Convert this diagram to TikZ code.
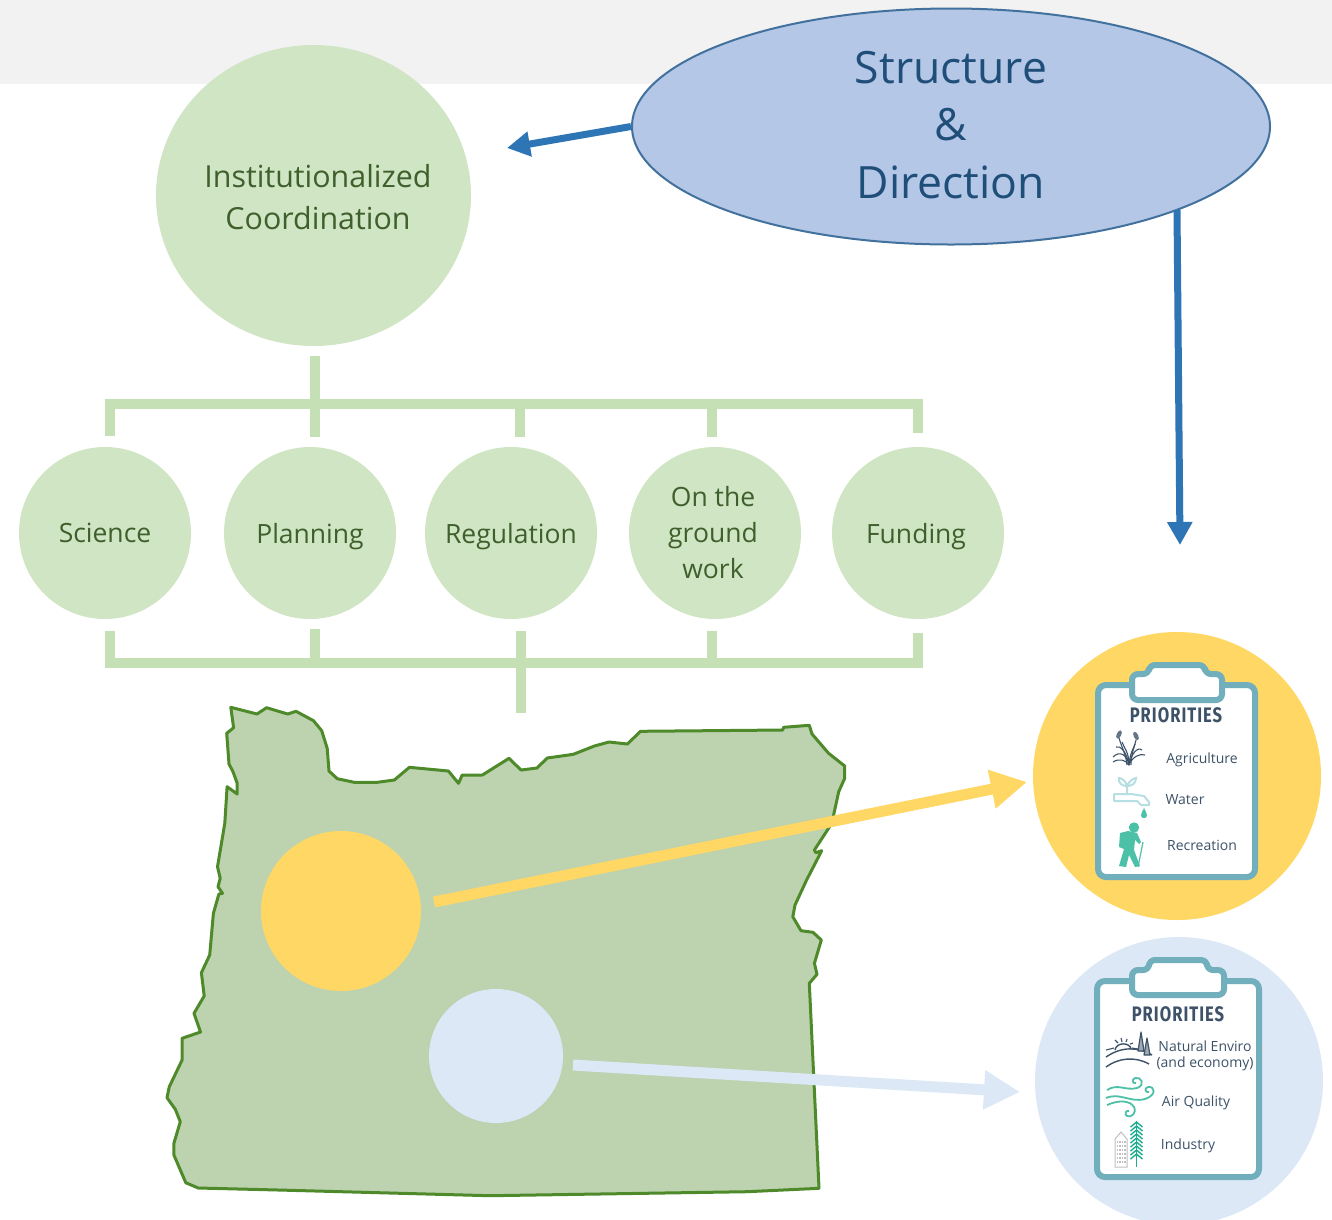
\documentclass[tikz,border=0pt]{standalone}
\usepackage{fontspec}
\setmainfont{Open Sans}
\newfontfamily\prifont[LetterSpace=6]{Fira Sans}
\usetikzlibrary{arrows.meta,shapes.geometric}
\definecolor{greenfill}{HTML}{CFE5C3}
\definecolor{greenbar}{HTML}{C6E0B5}
\definecolor{greentext}{HTML}{3F5F2C}
\definecolor{mapfill}{HTML}{BDD2AF}
\definecolor{mapedge}{HTML}{4E8A2A}
\definecolor{bluefill}{HTML}{B4C7E7}
\definecolor{bluetext}{HTML}{1F4E79}
\definecolor{blueedge}{HTML}{41719C}
\definecolor{bluearrow}{HTML}{2E75B6}
\definecolor{spotyellow}{HTML}{FFD764}
\definecolor{spotblue}{HTML}{DCE8F5}
\definecolor{boardedge}{HTML}{70AFBB}
\definecolor{icondark}{HTML}{3D5268}
\definecolor{iconteal}{HTML}{4DC0A8}
\definecolor{tappale}{HTML}{B7DEE2}
\definecolor{treegreen}{HTML}{1DAD8C}
\tikzset{
	smallcircle/.style={circle,fill=greenfill,text=greentext,minimum size=172pt,inner sep=0pt,align=center,font=\fontsize{26.5}{36}\selectfont},
	oneline/.style={text depth=0pt},
	barline/.style={draw=greenbar,line width=10pt},
	bluearrowline/.style={draw=bluearrow,line width=7pt,-{Triangle[length=23pt,width=24pt]}},
	spotarrow/.style={line width=11pt,-{Triangle[length=36pt,width=37pt]}},
	board/.style={draw=boardedge,fill=white,line width=6pt,rounded corners=8pt},
	clipshape/.style={draw=boardedge,fill=white,line width=6pt,rounded corners=6pt},
	pri/.style={text=icondark,font=\prifont\fontsize{21}{24}\selectfont\bfseries,inner sep=0pt},
	itemtext/.style={text=icondark,font=\fontsize{14}{16}\selectfont,inner sep=0pt}
}
\begin{document}
\begin{tikzpicture}[x=1pt,y=-1pt]
	\useasboundingbox (0,0) rectangle (1332,1219);
	% top band
	\fill[black!5] (0,0) rectangle (1332,84);
	% main nodes
	\node[ellipse,fill=greenfill,text=greentext,minimum width=315pt,minimum height=301pt,inner sep=0pt] (instcoord) at (313.5,195.5) {};
	\node[text=greentext,align=center,font=\fontsize{30.4}{42}\selectfont] (instlabel) at (318,197) {Institutionalized\\Coordination};
	\node[ellipse,draw=blueedge,fill=bluefill,line width=2pt,minimum width=638pt,minimum height=236pt,inner sep=0pt] (structure) at (951,126.5) {};
	\node[text=bluetext,align=center,font=\fontsize{44.5}{57.5}\selectfont] (structlabel) at (951,125) {Structure\\\&\\Direction};
	% five activities
	\node[smallcircle,oneline] (science) at (105,533) {Science};
	\node[smallcircle,oneline] (planning) at (310,533) {Planning};
	\node[smallcircle,oneline] (regulation) at (511,533) {Regulation};
	\node[smallcircle] (ground) at (715,533) {\hspace*{-4pt}On the\\\hspace*{-4pt}ground\\\hspace*{-4pt}work};
	\node[smallcircle,oneline] (funding) at (918,533) {\hspace*{-4pt}Funding};
	% top bars
	\coordinate (topleft) at (104.5,404);
	\coordinate (topright) at (923,404);
	\coordinate (instfoot) at (314.5,355.5);
	\draw[barline] (topleft) -- (topright);
	\draw[barline] (instfoot) -- (314.5,437);
	\foreach \name/\x/\gap in {science/110/11,regulation/520/10.5,ground/712/10.5,funding/918/14}
	\draw[barline,shorten >=\gap pt] (\x,404) -- (\x,447);
	% bottom bars
	\coordinate (botleft) at (104.5,663);
	\coordinate (botright) at (923,663);
	\coordinate (bottail) at (520.5,712.5);
	\draw[barline] (botleft) -- (botright);
	\draw[barline] (520.5,631) -- (bottail);
	\foreach \x/\ytop in {110/631,314.5/629,712/631,918/633}
	\draw[barline] (\x,663) -- (\x,\ytop);
	% oregon
	\draw[draw=mapedge,fill=mapfill,line width=3pt,line join=round] (230.8,707.3) -- (257,714) -- (266.6,707.7) -- (287.7,714) -- (296,711.3) -- (313.5,720.7) -- (321.7,730.7) -- (327.2,748.3) -- (329,771) -- (337.3,778.7) -- (354.3,782.3) -- (377.3,782.3) -- (394.3,780) -- (409.4,767.3) -- (448.4,771) -- (458.5,783.3) -- (462.2,775) -- (482.4,775) -- (509,758.3) -- (521,770) -- (537,768) -- (547.2,758) -- (573.3,754.3) -- (594.4,746) -- (609,742) -- (627.5,744) -- (640.4,731.3) -- (782.7,730) -- (783.6,727.3) -- (809.3,725.3) -- (812,734) -- (828.6,753.3) -- (844.7,766) -- (844.7,778.3) -- (838.7,791.7) -- (831.8,823.3) -- (814.4,850) -- (815.8,852.7) -- (821.7,850.7) -- (806.6,880) -- (795,905) -- (792.8,916.7) -- (801,930.7) -- (813,932.3) -- (821.3,940) -- (814.4,963.3) -- (817,974.3) -- (809.3,983.3) -- (819,1188.3) -- (746.9,1191.7) -- (489.8,1195.7) -- (278.6,1190) -- (198.2,1188) -- (185.8,1182.7) -- (173.9,1155) -- (173.9,1143.3) -- (180.3,1121.7) -- (175.3,1109.3) -- (167,1097.7) -- (169.3,1086.7) -- (182.1,1060) -- (182.1,1038.3) -- (200.5,1032) -- (194,1013.3) -- (204.2,996) -- (201.4,972.7) -- (209.7,955) -- (213.4,913.3) -- (218.9,894) -- (222.5,893.3) -- (218,886.7) -- (220.2,878.3) -- (217.5,866.7) -- (224.8,823.3) -- (227.1,786.7) -- (237.2,794) -- (237.2,783.3) -- (233,771.7) -- (229,764) -- (226.7,733.3) -- (233.6,727.7) -- cycle;
	% spots and large circles
	\node[circle,fill=spotyellow,minimum size=160pt,inner sep=0pt] (yellowspot) at (341,911) {};
	\node[circle,fill=spotblue,minimum size=134pt,inner sep=0pt] (bluespot) at (496,1056) {};
	\node[circle,fill=spotyellow,minimum size=288pt,inner sep=0pt] (yellowbig) at (1177,776) {};
	\node[circle,fill=spotblue,minimum size=288pt,inner sep=0pt] (bluebig) at (1179,1081) {};
	% arrows
	\coordinate (structleft) at (507,148);
	\coordinate (structdown) at (1180,545);
	\coordinate (structfoot) at (1177,210);
	\draw[bluearrowline] (structure.west) -- (structleft);
	\draw[bluearrowline] (structfoot) -- (structdown);
	\draw[spotarrow,draw=spotyellow] (yellowspot) ++(93,-9) coordinate (yellowstart) -- (1027,782);
	\draw[spotarrow,draw=spotblue] (bluespot) ++(77,9) coordinate (bluestart) -- (1020,1092);
	% yellow clipboard
	\draw[board] (1098,685) rectangle (1255,877);
	\draw[clipshape] (1132,700) -- (1132,674) -- (1149,674) -- (1149,665) -- (1205,665) -- (1205,674) -- (1222,674) -- (1222,700) -- cycle;
	\node[pri] (prione) at (1176,715.5) {\scalebox{.79}[1]{PRIORITIES}};
	\node[itemtext] (agri) at (1202,759.5) {Agriculture};
	\node[itemtext] (water) at (1185,800) {Water};
	\node[itemtext] (recreation) at (1202,845) {Recreation};
	% wheat
	\foreach \xa/\ya/\xb/\yb/\tipx/\tipy in {1127/755/1120/750/1113/757,1127/752/1120/745/1116/747,1129/752/1124/748/1122/742,1130/752/1134/748/1135/744,1131/755/1137/746/1142/750,1132/757/1140/753/1145/755,1126/760/1119/758/1113/762}
	\draw[icondark,line width=1.1pt] (1129,765) .. controls (\xa,\ya) and (\xb,\yb) .. (\tipx,\tipy);
	\draw[icondark,line width=1.1pt] (1127,765) .. controls (1126,755) and (1122,748) .. (1119,738);
	\draw[icondark,line width=1.1pt] (1131,765) .. controls (1131,755) and (1134,748) .. (1136,740);
	\fill[icondark!80,rotate around={-25:(1119,734.5)}] (1119,734.5) ellipse (2.3pt and 4.5pt);
	\fill[icondark!80,rotate around={25:(1136,736)}] (1136,736) ellipse (2.3pt and 4.5pt);
	% tap
	\draw[tappale,line width=2pt,line join=round] (1114,794) -- (1114,801) -- (1137,801) -- (1141,805) -- (1149,805) -- (1149,802) -- (1144,796) -- (1131,794) -- (1123,794) -- cycle;
	\draw[tappale,line width=2pt] (1127,794) -- (1127,786) .. controls (1125,779) and (1120,778) .. (1119,778) .. controls (1118,783) and (1122,786) .. (1127,786) .. controls (1129,781) and (1134,778) .. (1136,778) .. controls (1136,784) and (1131,786) .. (1127,786);
	\fill[iconteal] (1144,808) .. controls (1142,812) and (1141,814) .. (1141,815.5) .. controls (1141,819) and (1147,819) .. (1147,815.5) .. controls (1147,814) and (1146,812) .. (1144,808);
	% hiker
	\fill[iconteal] (1134,827.5) circle (5.2pt);
	\fill[iconteal,line join=round] (1120,833) -- (1128,831) -- (1137,833) -- (1141,842) -- (1139,844) -- (1135,840) -- (1134,850) -- (1140,866) -- (1135,867) -- (1129,855) -- (1126,867) -- (1119,866) -- (1124,849) -- (1119,847) -- cycle;
	\draw[iconteal,line width=1.2pt] (1143,842) -- (1138,867);
	% blue clipboard
	\draw[board] (1097,981) rectangle (1259,1177);
	\draw[clipshape] (1132,995) -- (1132,970) -- (1149,970) -- (1149,960) -- (1207,960) -- (1207,970) -- (1224,970) -- (1224,995) -- cycle;
	\node[pri] (pritwo) at (1178,1014.5) {\scalebox{.79}[1]{PRIORITIES}};
	\node[itemtext,align=center,font=\fontsize{14}{16}\selectfont] (natural) at (1205,1055.5) {Natural Enviro\\(and economy)};
	\node[itemtext] (air) at (1196,1102.5) {Air Quality};
	\node[itemtext] (industry) at (1188,1145.5) {Industry};
	% landscape
	\draw[icondark,line width=1.4pt] (1106,1057) .. controls (1122,1046) and (1138,1047) .. (1152,1055);
	\draw[icondark,line width=1.4pt] (1106,1067) .. controls (1118,1058) and (1135,1056) .. (1149,1064);
	\draw[icondark,line width=1.4pt] (1115,1050) .. controls (1116,1042) and (1130,1042) .. (1131,1049);
	\draw[icondark,line width=1.1pt] (1106,1050) -- (1114,1048) (1132,1048) -- (1138,1049);
	\foreach \xa/\ya/\xb/\yb in {1115/1040/1118/1043,1121/1038/1122/1042,1127/1039/1126/1042,1133/1043/1130/1044}
	\draw[icondark,line width=1.1pt] (\xa,\ya) -- (\xb,\yb);
	\draw[icondark,line width=1.2pt,fill=icondark!50,line join=round] (1141,1032) -- (1138,1051) -- (1144,1051) -- cycle;
	\draw[icondark,line width=1.2pt,fill=icondark!50,line join=round] (1147,1038) -- (1144,1055) -- (1150,1055) -- cycle;
	% wind
	\draw[iconteal,line width=1.8pt] (1107,1090) .. controls (1118,1083) and (1125,1091) .. (1137,1088) .. controls (1146,1085) and (1141,1076) .. (1135,1078) .. controls (1131,1080) and (1133,1084) .. (1136,1083);
	\draw[iconteal,line width=1.8pt] (1106,1098) .. controls (1120,1092) and (1130,1103) .. (1145,1099) .. controls (1157,1095) and (1155,1086) .. (1148,1087) .. controls (1144,1088) and (1145,1093) .. (1149,1092);
	\draw[iconteal,line width=1.8pt] (1107,1105) .. controls (1118,1100) and (1130,1100) .. (1134,1107) .. controls (1137,1113) and (1131,1118) .. (1127,1116) .. controls (1124,1114) and (1126,1110) .. (1129,1111);
	% tree and building
	\draw[treegreen,line width=1.4pt] (1136.5,1121) -- (1136.5,1167);
	\foreach \y in {1122,1126,...,1154}
	\draw[treegreen,line width=1.4pt] (1130.5,\y+5) -- (1136.5,\y) -- (1142.5,\y+5);
	\draw[black!25,fill=white,line width=1pt] (1115,1167) -- (1115,1139) -- (1121,1132) -- (1127,1139) -- (1127,1167) -- cycle;
	\foreach \y in {1142,1146,...,1164}
	\draw[black!25,line width=1.6pt,dash pattern=on 1.5pt off 1pt] (1116.5,\y) -- (1126,\y);
\end{tikzpicture}
\end{document}
